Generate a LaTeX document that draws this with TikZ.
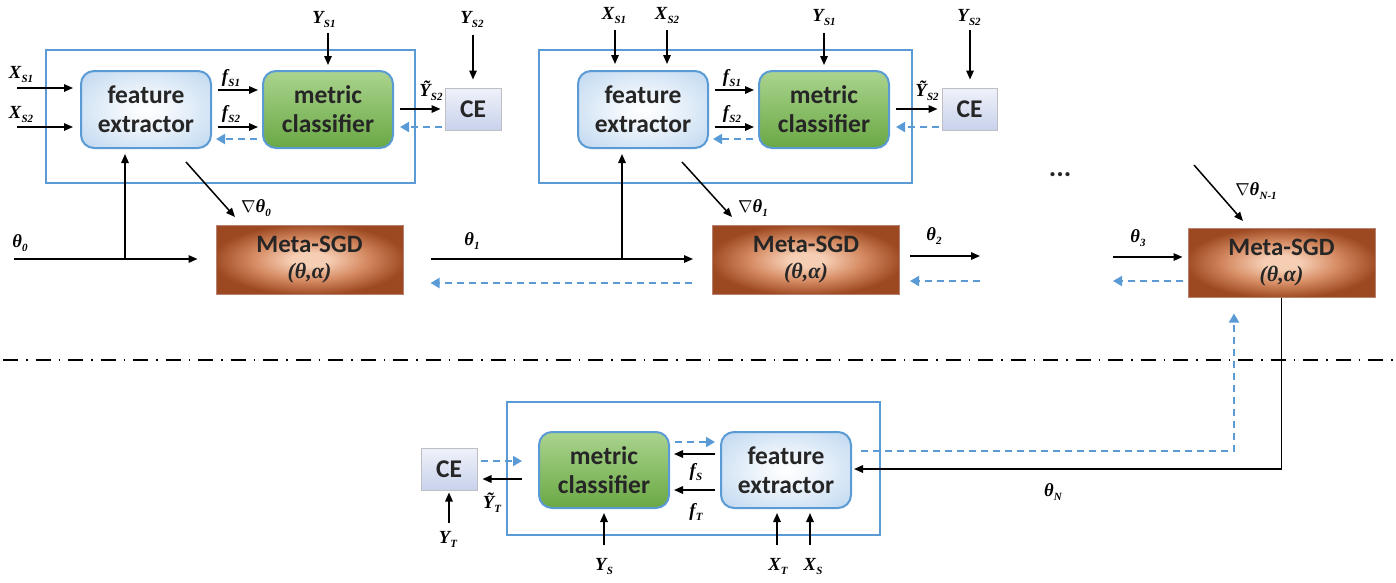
\documentclass[tikz,border=0pt]{standalone}
\usepackage{fontspec}
\setmainfont{Liberation Serif}
\newfontfamily\boxfont{Carlito}
\usetikzlibrary{arrows.meta}
\definecolor{frameblue}{RGB}{91,155,213}
\definecolor{feblue}{RGB}{182,210,238}
\definecolor{mcgreenA}{RGB}{170,212,142}
\definecolor{mcgreenB}{RGB}{106,168,68}
\definecolor{sgdin}{RGB}{246,206,180}
\definecolor{sgdmid}{RGB}{214,140,100}
\definecolor{sgdout}{RGB}{156,72,32}
\definecolor{sgdborder}{RGB}{180,130,110}
\definecolor{ceA}{RGB}{240,242,250}
\definecolor{ceB}{RGB}{200,210,236}
\definecolor{cegray}{RGB}{190,190,195}
\definecolor{txtgray}{RGB}{38,38,38}
\pgfdeclareradialshading{ferad}{\pgfpoint{0bp}{0bp}}{color(0bp)=(white); color(8bp)=(white!85!feblue); color(40bp)=(feblue); color(75bp)=(feblue)}
\pgfdeclareradialshading{sgdrad}{\pgfpoint{0bp}{0bp}}{color(0bp)=(sgdin); color(5bp)=(sgdin); color(15bp)=(sgdmid); color(26bp)=(sgdout); color(75bp)=(sgdout)}
\newcommand\sbs[2]{#1\kern0.3pt\raisebox{-4pt}{\fontsize{11}{11}\selectfont #2}}
\tikzset{
  arr/.style={line width=1.5pt,-{Triangle[length=9pt,width=7.5pt]}},
  darr/.style={line width=2pt,draw=frameblue,dash pattern=on 7pt off 5pt,-{Triangle[length=9pt,width=10pt]}},
  frame/.style={draw=frameblue,line width=1.5pt},
  boxtext/.style={font=\boxfont\bfseries\fontsize{25.5}{29}\selectfont,text=txtgray,align=center,inner sep=0pt},
  febox/.style={boxtext,draw=frameblue,line width=2pt,rounded corners=13pt,shading=ferad,minimum width=130pt,minimum height=77pt},
  mcbox/.style={boxtext,draw=frameblue,line width=2pt,rounded corners=13pt,top color=mcgreenA,bottom color=mcgreenB,minimum width=130pt,minimum height=77pt},
  cebox/.style={boxtext,draw=cegray,line width=1pt,top color=ceA,bottom color=ceB,minimum width=56pt,minimum height=42pt},
  sgdbox/.style={draw=sgdborder,line width=1pt,shading=sgdrad,minimum width=187pt,minimum height=69pt,align=center,inner sep=0pt,text=txtgray,font=\fontsize{25}{26}\selectfont},
  lab/.style={font=\bfseries\itshape\fontsize{18.5}{18.5}\selectfont,inner sep=1pt}
}
\newcommand\sgdtext{{\boxfont\bfseries Meta-SGD}\\{\bfseries\itshape\fontsize{22}{26}\selectfont (θ,α)}}
\begin{document}
\begin{tikzpicture}[x=1pt,y=-1pt]
\useasboundingbox (0,0) rectangle (1396,582);
% ---------- block 1 ----------
\node[frame,draw,minimum width=369pt,minimum height=133pt,inner sep=0pt] (fr1) at (230.5,116.5) {};
\node[febox] (fe1) at (146,109.5) {feature\\extractor};
\node[mcbox] (mc1) at (328,109.5) {metric\\classifier};
\node[cebox] (ce1) at (473,109) {CE};
\node[sgdbox] (sgd1) at (309.5,259.5) {\sgdtext};
\coordinate (xa1) at (17,88);
\coordinate (xb1) at (17,127);
\coordinate (ya1) at (328,33);
\coordinate (yb1) at (473,35);
\coordinate (t0) at (14,259);
\coordinate (j1) at (125,259);
\coordinate (g1s) at (186,162);
\coordinate (g1e) at (235,217);
\draw[arr,shorten >=7pt] (xa1) -- (xa1 -| fe1.west);
\draw[arr,shorten >=7pt] (xb1) -- (xb1 -| fe1.west);
\draw[arr,shorten <=6pt,shorten >=4pt] (fe1.east |- 0,90) -- (mc1.west |- 0,90);
\draw[arr,shorten <=6pt,shorten >=4pt] (fe1.east |- 0,127) -- (mc1.west |- 0,127);
\draw[darr,shorten <=5pt,shorten >=4pt] (mc1.west |- 0,139) -- (fe1.east |- 0,139);
\draw[arr,shorten >=5pt] (ya1) -- (mc1.north);
\draw[arr,shorten >=8pt] (yb1) -- (ce1.north);
\draw[arr,shorten <=6pt,shorten >=4pt] (mc1.east |- 0,109) -- (ce1.west |- 0,109);
\draw[darr,shorten <=3pt,shorten >=6pt] (ce1.west |- 0,127) -- (mc1.east |- 0,127);
\draw[arr,shorten >=18pt] (t0) -- (t0 -| sgd1.west);
\draw[arr,shorten >=5pt] (j1) -- (j1 |- fe1.south);
\draw[arr] (g1s) -- (g1e);
\node[lab] (lxa1) at (21,74) {\sbs{X}{S1}};
\node[lab] (lxb1) at (21,114) {\sbs{X}{S2}};
\node[lab] (lfa1) at (231,78) {\sbs{f}{S1}};
\node[lab] (lfb1) at (231,114) {\sbs{f}{S2}};
\node[lab] (lya1) at (324,19) {\sbs{Y}{S1}};
\node[lab] (lyb1) at (472,19) {\sbs{Y}{S2}};
\node[lab] (lyt1) at (431,91) {\sbs{\~Y}{S2}};
\node[lab] (lg1) at (256,208) {\sbs{$\nabla$θ}{0}};
\node[lab] (lt0) at (20,243) {\sbs{θ}{0}};
% ---------- link 1 -> 2 ----------
\node[sgdbox] (sgd2) at (806,260) {\sgdtext};
\node[febox] (fe2) at (643,109.5) {feature\\extractor};
\node[mcbox] (mc2) at (824,109.5) {metric\\classifier};
\node[cebox,minimum width=55pt] (ce2) at (969.5,109) {CE};
\node[frame,draw,minimum width=373pt,minimum height=133pt,inner sep=0pt] (fr2) at (725.5,116.5) {};
\coordinate (j2) at (622,259);
\draw[arr,shorten <=27pt,shorten >=19pt] (sgd1.east |- 0,259) -- (sgd2.west |- 0,259);
\draw[darr,shorten <=20pt,shorten >=27pt] (sgd2.west |- 0,283) -- (sgd1.east |- 0,283);
\draw[arr,shorten >=5pt] (j2) -- (j2 |- fe2.south);
\node[lab] (lt1) at (472,241) {\sbs{θ}{1}};
% ---------- block 2 ----------
\coordinate (xa2) at (615,30);
\coordinate (xb2) at (667,30);
\coordinate (ya2) at (824,33);
\coordinate (yb2) at (970,30);
\coordinate (g2s) at (682,162);
\coordinate (g2e) at (732,217);
\draw[arr,shorten >=6pt] (xa2) -- (xa2 |- fe2.north);
\draw[arr,shorten >=6pt] (xb2) -- (xb2 |- fe2.north);
\draw[arr,shorten <=6pt,shorten >=4pt] (fe2.east |- 0,90) -- (mc2.west |- 0,90);
\draw[arr,shorten <=6pt,shorten >=4pt] (fe2.east |- 0,127) -- (mc2.west |- 0,127);
\draw[darr,shorten <=5pt,shorten >=4pt] (mc2.west |- 0,139) -- (fe2.east |- 0,139);
\draw[arr,shorten >=5pt] (ya2) -- (mc2.north);
\draw[arr,shorten >=8pt] (yb2) -- (yb2 |- ce2.north);
\draw[arr,shorten <=6pt,shorten >=4pt] (mc2.east |- 0,109) -- (ce2.west |- 0,109);
\draw[darr,shorten <=3pt,shorten >=6pt] (ce2.west |- 0,127) -- (mc2.east |- 0,127);
\draw[arr] (g2s) -- (g2e);
\node[lab] (lxa2) at (614,15) {\sbs{X}{S1}};
\node[lab] (lxb2) at (667,15) {\sbs{X}{S2}};
\node[lab] (lfa2) at (732,78) {\sbs{f}{S1}};
\node[lab] (lfb2) at (732,114) {\sbs{f}{S2}};
\node[lab] (lya2) at (824,17) {\sbs{Y}{S1}};
\node[lab] (lyb2) at (969,17) {\sbs{Y}{S2}};
\node[lab] (lyt2) at (927,91) {\sbs{\~Y}{S2}};
\node[lab] (lg2) at (753,208) {\sbs{$\nabla$θ}{1}};
% ---------- after block 2 ----------
\coordinate (t2e) at (980,256);
\coordinate (t2d) at (980,281);
\draw[arr,shorten <=10pt] (sgd2.east |- t2e) -- (t2e);
\draw[darr,shorten >=10pt] (t2d) -- (t2d -| sgd2.east);
\node[lab] (lt2) at (934,236) {\sbs{θ}{2}};
\node[font=\boxfont\bfseries\fontsize{28}{28}\selectfont,text=txtgray,inner sep=0pt] (dots) at (1060,175) {...};
% ---------- last Meta-SGD ----------
\node[sgdbox] (sgd3) at (1281.5,262.5) {\sgdtext};
\coordinate (t3s) at (1113,257);
\coordinate (t3d) at (1113,281);
\coordinate (g3s) at (1194,165);
\coordinate (g3e) at (1243,221);
\draw[arr,shorten >=5pt] (t3s) -- (t3s -| sgd3.west);
\draw[darr,shorten <=5pt] (sgd3.west |- t3d) -- (t3d);
\draw[arr] (g3s) -- (g3e);
\node[lab] (lt3) at (1138,238) {\sbs{θ}{3}};
\node[lab] (lg3) at (1256,191) {\sbs{$\nabla$θ}{N-1}};
% ---------- separator ----------
\coordinate (sepl) at (3,360);
\coordinate (sepr) at (1396,360);
\draw[line width=1.5pt,dash pattern=on 15pt off 8pt on 1.5pt off 8pt] (sepl) -- (sepr);
% ---------- bottom block ----------
\node[frame,draw,minimum width=373pt,minimum height=133pt,inner sep=0pt] (fr3) at (693.5,468.5) {};
\node[mcbox,minimum height=76pt] (mc3) at (604,470) {metric\\classifier};
\node[febox,minimum height=76pt] (fe3) at (786,470) {feature\\extractor};
\node[cebox] (ce3) at (449,469) {CE};
\coordinate (yt3) at (449,523);
\coordinate (ys3) at (604,545);
\coordinate (xt3) at (777,545);
\coordinate (xs3) at (810,545);
\draw[darr,shorten <=3pt,shorten >=16pt] (ce3.east |- 0,461) -- (mc3.west |- 0,461);
\draw[arr,shorten <=16pt,shorten >=5pt] (mc3.west |- 0,479) -- (ce3.east |- 0,479);
\draw[arr,shorten >=2pt] (yt3) -- (ce3.south);
\draw[darr,shorten <=5pt,shorten >=5pt] (mc3.east |- 0,442) -- (fe3.west |- 0,442);
\draw[arr,shorten <=5pt,shorten >=4pt] (fe3.west |- 0,454) -- (mc3.east |- 0,454);
\draw[arr,shorten <=5pt,shorten >=4pt] (fe3.west |- 0,490) -- (mc3.east |- 0,490);
\draw[arr,shorten >=4pt] (ys3) -- (mc3.south);
\draw[arr,shorten >=4pt] (xt3) -- (xt3 |- fe3.south);
\draw[arr,shorten >=4pt] (xs3) -- (xs3 |- fe3.south);
\draw[arr,shorten >=2pt] (sgd3.south) |- (fe3.east |- 0,469);
\draw[darr,shorten <=9pt,shorten >=16pt] (fe3.east |- 0,451) -| (sgd3.south -| 1234,0);
\node[lab] (lyt3) at (492,503) {\sbs{\~Y}{T}};
\node[lab] (lyT) at (448,539) {\sbs{Y}{T}};
\node[lab] (lfs3) at (696,472) {\sbs{f}{S}};
\node[lab] (lft3) at (696,512) {\sbs{f}{T}};
\node[lab] (lys3) at (604,566) {\sbs{Y}{S}};
\node[lab] (lxt3) at (778,566) {\sbs{X}{T}};
\node[lab] (lxs3) at (813,566) {\sbs{X}{S}};
\node[lab] (ltn) at (1053,492) {\sbs{θ}{N}};
\end{tikzpicture}
\end{document}
